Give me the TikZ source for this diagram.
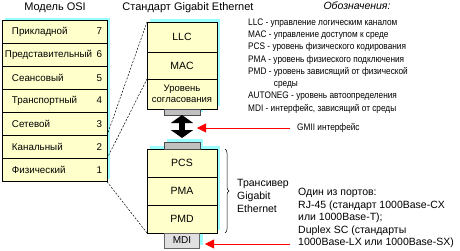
\documentclass[tikz,border=0pt]{standalone}
\usepackage{fontspec}
\setmainfont{Liberation Sans}
\newfontfamily\lgfont{Liberation Sans}[FakeStretch=0.87]
\usepackage{tikz}
\usetikzlibrary{positioning,arrows.meta,fit,backgrounds,decorations.pathreplacing}
\definecolor{cyell}{HTML}{FFFFCC}
\definecolor{ccyan}{HTML}{99FFFF}
\definecolor{cpad}{HTML}{C0C0C0}
\definecolor{cmdi}{HTML}{E0E0E0}
\definecolor{cred}{HTML}{FF0000}

\begin{document}
\begin{tikzpicture}[x=1pt, y=-1pt, >=Stealth,
  layer/.style={draw, line width=0.7pt, fill=cyell, minimum width=70pt, inner sep=0pt, outer sep=0pt, align=center, font=\fontsize{10.5}{12}\selectfont},
  osirow/.style={draw, line width=0.7pt, fill=cyell, minimum height=23.1pt, text width=95pt, inner xsep=5pt, inner ysep=0pt, outer sep=0pt, align=left, font=\fontsize{9.8}{11}\selectfont},
  pad/.style={draw=black!70, line width=0.6pt, fill=cpad, minimum width=36pt, inner sep=0pt, outer sep=0pt},
  cyanshadow/.style={fill=ccyan, inner sep=0pt, xshift=3pt, yshift=3pt},
  dashline/.style={line width=0.5pt, dash pattern=on 2pt off 1.5pt},
  redarrow/.style={cred, line width=0.8pt, -{Triangle[length=9pt,width=9pt]}},
  caption/.style={inner sep=0pt, font=\fontsize{11}{13}\selectfont},
  legend/.style={inner sep=0pt, align=left, font=\lgfont\fontsize{9.5}{12.25}\selectfont}]
  \useasboundingbox (0,0) rectangle (460,250);
  % headers
  \node[caption] (osihead) at (55,8) {Модель OSI};
  \node[caption] (gehead) at (188,8) {Стандарт Gigabit Ethernet};
  \node[caption, font=\itshape\fontsize{10.5}{12}\selectfont] (notehead) at (357,6) {Обозначения:};
  % OSI model
  \node[osirow, anchor=north west] (osi7) at (2,20) {\hspace*{5pt}Прикладной\hfill 7};
  \foreach \n/\t/\s in {6/Представительный/-2pt,5/Сеансовый/5pt,4/Транспортный/5pt,3/Сетевой/5pt,2/Канальный/5pt,1/Физический/5pt}{
    \node[osirow, below=0pt of osi\the\numexpr\n+1\relax] (osi\n) {\hspace*{\s}\t\hfill \n};
  }
  % Gigabit Ethernet stack
  \node[layer, anchor=north west, minimum height=30pt] (llc) at (147,22) {LLC};
  \node[layer, below=0pt of llc, minimum height=27pt] (mac) {MAC};
  \node[layer, below=0pt of mac, minimum height=30pt, font=\fontsize{9.5}{11}\selectfont] (sogl) {Уровень\\согласования};
  \node[pad, below=0pt of sogl, minimum height=6pt] (gp1) {};
  \node[layer, anchor=north west, minimum height=28pt] (pcs) at (147,149) {PCS};
  \node[layer, below=0pt of pcs, minimum height=28pt] (pma) {PMA};
  \node[layer, below=0pt of pma, minimum height=28pt] (pmd) {PMD};
  \node[pad, above=0pt of pcs, minimum height=7pt] (gp2) {};
  \node[draw=black!60, line width=0.6pt, fill=cmdi, minimum width=35pt, minimum height=15pt, inner sep=0pt, outer sep=0pt, below=0pt of pmd, font=\fontsize{10}{12}\selectfont] (mdi) {MDI};
  \begin{scope}[on background layer]
    \node[cyanshadow, yshift=-0.5pt, fit=(osi7)(osi1)] {};
    \node[cyanshadow, fit=(llc)(sogl)] {};
    \node[cyanshadow, fit=(gp1)] {};
    \node[cyanshadow, fit=(gp2)] {};
    \node[cyanshadow, fit=(pcs)(pmd)] {};
    \node[cyanshadow, fit=(mdi)] {};
  \end{scope}
  \draw[dashline] (osi3.south east) -- (llc.north west);
  \draw[dashline] (osi2.south east) -- (mac.south west);
  \draw[dashline] (osi1.south east) -- (pmd.south west);
  \draw[line width=6pt, {Triangle[length=8pt,width=22pt]}-{Triangle[length=8pt,width=22pt]}, shorten >=4pt] (gp1.south) -- (gp2.north);
  % legend
  \node[legend, anchor=west] (notes) at (248,66) {LLC - управление логическим каналом\\MAC - управление доступом к среде\\PCS - уровень физического кодирования\\PMA - уровень физиеского подключения\\PMD - уровень зависящий от физической\\\phantom{PMD -~}среды\\AUTONEG - уровень автоопределения\\MDI - интерфейс, зависящий от среды};
  \node[legend, anchor=west] (gmiitxt) at (297,128) {GMII интерфейс};
  \coordinate (gmiitip) at (197,128);
  \draw[redarrow] ([xshift=-7pt]gmiitxt.west) -- (gmiitip);
  % transceiver
  \draw[line width=0.5pt, decorate, decoration={brace, amplitude=4pt}] ([xshift=8pt]pcs.north east) -- ([xshift=8pt]pmd.south east);
  \node[caption, anchor=west, align=left, font=\fontsize{10.5}{13}\selectfont] (trx) at (237,196) {Трансивер\\Gigabit\\Ethernet};
  \node[caption, anchor=west, align=left, font=\fontsize{10.5}{12.5}\selectfont] (ports) at (298,218) {Один из портов:\\RJ-45 (стандарт 1000Base-CX\\или 1000Base-T);\\Duplex SC (стандарты\\1000Base-LX или 1000Base-SX)};
  \coordinate (mdisrc) at (290,244);
  \coordinate (mditip) at (205,244);
  \draw[redarrow] (mdisrc) -- (mditip);
\end{tikzpicture}
\end{document}
